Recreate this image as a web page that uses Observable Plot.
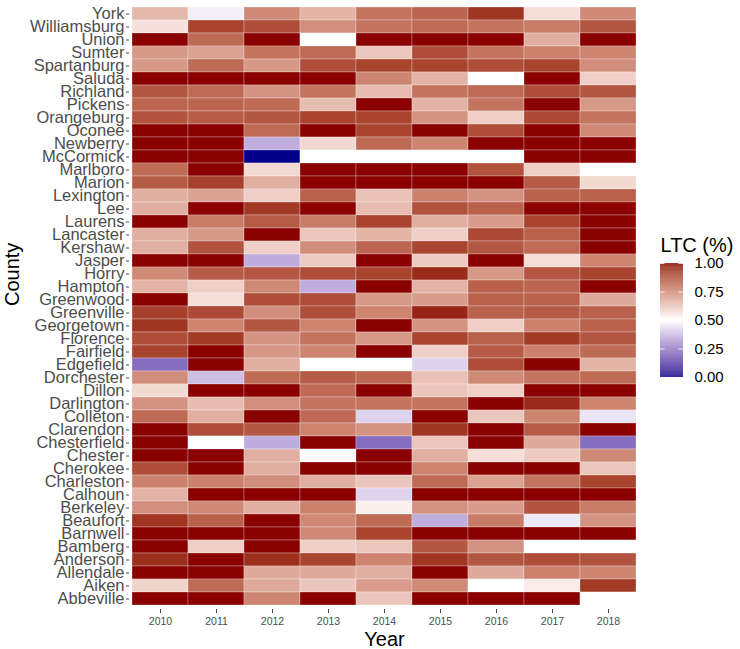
<!DOCTYPE html>
<html><head><meta charset="utf-8">
<script src="https://cdn.jsdelivr.net/npm/d3@7"></script>
<script src="https://cdn.jsdelivr.net/npm/@observablehq/plot@0.6"></script>
<style>
html,body{margin:0;padding:0;background:#fff;}
#chart{position:relative;width:740px;height:649px;font-family:"Liberation Sans",Arial,sans-serif;}
#chart svg{position:absolute;overflow:visible;}
</style></head><body><div id="chart"></div>
<script>
const years = [2010, 2011, 2012, 2013, 2014, 2015, 2016, 2017, 2018];
const counties = ["York","Williamsburg","Union","Sumter","Spartanburg","Saluda","Richland","Pickens","Orangeburg","Oconee","Newberry","McCormick","Marlboro","Marion","Lexington","Lee","Laurens","Lancaster","Kershaw","Jasper","Horry","Hampton","Greenwood","Greenville","Georgetown","Florence","Fairfield","Edgefield","Dorchester","Dillon","Darlington","Colleton","Clarendon","Chesterfield","Chester","Cherokee","Charleston","Calhoun","Berkeley","Beaufort","Barnwell","Bamberg","Anderson","Allendale","Aiken","Abbeville"];

// LTC share per county (same order as counties), one array per year
const y2010 = [.65,.56,1,.72,.72,1,.86,.83,.87,1,1,1,.82,.85,.67,.67,1,.67,.67,1,.75,.66,1,.91,.93,.88,.90,.22,.74,.58,.73,.82,1,1,1,.88,.77,.66,.74,.93,1,1,.94,1,.59,1];
const y2011 = [.47,.90,.82,.70,.82,1,.82,.83,.85,1,1,1,1,.91,.70,1,.78,.72,.87,1,.85,.60,.57,.89,.76,.92,1,1,.38,1,.64,.67,.88,.5,1,1,.77,1,.75,.84,1,.60,1,1,.82,1];
const y2012 = [.75,.88,1,.80,.72,1,.73,.82,.86,.82,.35,0,.58,.67,.60,.92,.85,1,.60,.35,.86,.75,.88,.74,.86,.73,.72,.67,.82,1,.74,1,.86,.35,.67,.67,.74,1,.67,1,1,1,.94,.68,.68,.76];
const y2013 = [.66,.74,.5,.82,.88,1,.80,.64,.90,1,.58,.5,1,1,.84,1,.78,.62,.74,.61,.88,.35,.88,.88,.76,.80,.76,.5,.85,.82,.80,.82,.76,1,.5,1,.67,1,.77,.75,.75,.60,.90,.68,.62,1];
const y2014 = [.80,.80,1,.62,.90,.76,.64,1,.90,.90,.82,.5,1,1,.63,.64,.90,.66,.83,1,.90,1,.72,.76,1,.72,1,.5,.83,1,.80,.42,.73,.22,1,1,.62,.42,.53,.82,.90,.62,.76,.67,.71,.62];
const y2015 = [.83,.82,1,.88,.90,.66,.80,.66,.73,1,.76,.5,1,1,.77,.87,.67,.60,.90,.61,.95,.66,.71,.96,.73,.90,.60,.42,.63,.62,.80,1,.93,.62,.67,.76,.82,1,.73,.35,1,.86,.93,1,.75,1];
const y2016 = [.93,.80,1,.80,.88,.5,.82,.80,.60,.88,1,.5,.87,1,.73,.84,.71,.89,.86,1,.72,.84,.84,.84,.60,.84,.85,.88,.75,.60,1,.62,1,1,.57,1,.70,1,.71,.78,1,.73,.86,.68,.5,1];
const y2017 = [.57,.78,.67,.77,.90,1,.88,1,.89,1,1,1,.60,.85,.84,1,.90,.84,.82,.57,.86,.83,.84,.85,.77,.92,.77,1,.80,1,.95,.76,.85,.68,.61,1,.80,1,.87,.46,1,.5,.88,.77,.54,1];
const y2018 = [.75,.86,1,.76,.74,.60,.86,.72,.80,.75,1,1,.5,.58,.84,1,1,1,1,.76,.90,1,.68,.84,.84,.86,.82,.66,.82,1,.76,.45,1,.22,.75,.62,.90,1,.78,.73,1,.5,.87,.76,.92,.5];
const legendTicks = [0, 0.25, 0.5, 0.75, 1];

const byYear = [y2010, y2011, y2012, y2013, y2014, y2015, y2016, y2017, y2018];
const data = [];
years.forEach((yr, i) => counties.forEach((c, j) => data.push({year: yr, county: c, ltc: byYear[i][j]})));

const font = '"Liberation Sans", Arial, sans-serif';
const colorScale = {type: "linear", domain: [0, 0.5, 1], range: ["#00008B", "#FFFFFF", "#8B0000"], interpolate: "lab", clamp: true};

const main = Plot.plot({
  width: 645, height: 649,
  marginLeft: 129, marginRight: 6, marginTop: 2, marginBottom: 40,
  style: {fontFamily: font, background: "transparent", overflow: "visible"},
  x: {type: "band", domain: years, padding: 0, label: null},
  y: {type: "band", domain: counties, padding: 0, label: null},
  color: colorScale,
  marks: [
    Plot.cell(data, {x: "year", y: "county", fill: "ltc", inset: 0, stroke: "white", strokeWidth: 0.5, strokeOpacity: 0.55}),
    Plot.axisX({tickSize: 4, tickPadding: 4, fontSize: 10.5, color: "#4D4D4D", label: null, tickFormat: d => String(d)}),
    Plot.axisY({tickSize: 3, tickPadding: 2, fontSize: 16.5, color: "#4D4D4D", label: null}),
    Plot.text(["Year"], {frameAnchor: "bottom", dy: 30, lineAnchor: "middle", fontSize: 20, fill: "black"}),
    Plot.text(["County"], {frameAnchor: "left", dx: -117, lineAnchor: "middle", rotate: -90, fontSize: 20, fill: "black"})
  ]
});
main.style.left = "0px"; main.style.top = "0px";
document.getElementById("chart").appendChild(main);

const steps = d3.range(0, 1, 0.005);
const legend = Plot.plot({
  width: 100, height: 160,
  marginLeft: 20, marginRight: 57, marginTop: 33, marginBottom: 13,
  style: {fontFamily: font, background: "transparent", overflow: "visible"},
  x: {domain: [0, 1], axis: null},
  y: {domain: [0, 1]},
  color: colorScale,
  marks: [
    Plot.rect(steps, {x1: 0, x2: 1, y1: d => d, y2: d => Math.min(1, d + 0.006), fill: d => d + 0.0025}),
    Plot.ruleY(legendTicks, {x1: 0, x2: 0.2, stroke: "white", strokeOpacity: 0.8}),
    Plot.ruleY(legendTicks, {x1: 0.8, x2: 1, stroke: "white", strokeOpacity: 0.8}),
    Plot.axisY(legendTicks, {anchor: "right", tickSize: 0, tickPadding: 11, fontSize: 15, tickFormat: ".2f", color: "black", label: null}),
    Plot.text(["LTC (%)"], {frameAnchor: "top-left", dy: -18, lineAnchor: "middle", textAnchor: "start", fontSize: 20, fill: "black"})
  ]
});
legend.style.left = "640px"; legend.style.top = "230px";
document.getElementById("chart").appendChild(legend);
</script>
</body></html>
